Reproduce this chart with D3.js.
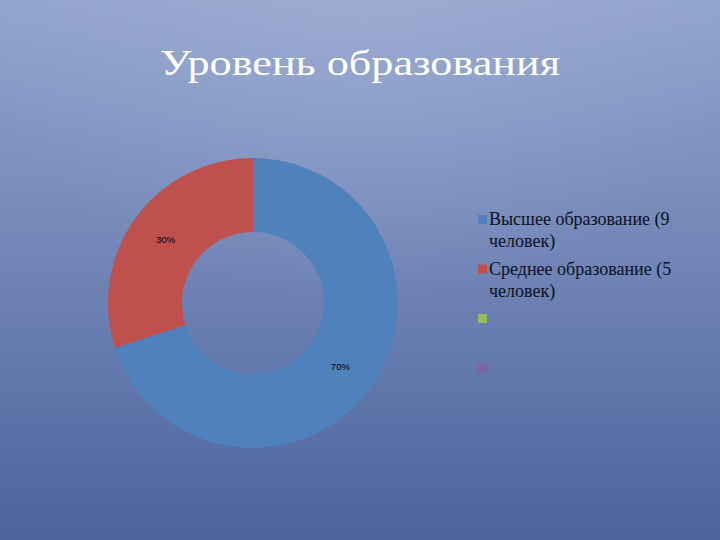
<!DOCTYPE html>
<html lang="ru">
<head>
<meta charset="UTF-8">
<link rel="icon" href="data:,">
<style>
html, body {
  margin: 0;
  padding: 0;
  overflow: hidden;
}
</style>
<script src="https://cdn.jsdelivr.net/npm/d3@7/dist/d3.min.js"></script>
</head>
<body>
<svg id="chart"></svg>
<script>
const width = 720;
const height = 540;
const serif = "'Liberation Serif', 'DejaVu Serif', serif";
const sans = "'Liberation Sans', Arial, sans-serif";

const titleText = "Уровень образования";
const categories = [
  ["Высшее образование (9", "человек)"],
  ["Среднее образование (5", "человек)"],
  [""],
  [""]
];
const values = [70, 30, 0, 0];
const colors = ["#4f81bd", "#c0504d", "#9bbb59", "#8064a2"];

const svg = d3.select("#chart")
  .attr("width", width)
  .attr("height", height);

// background gradient
const defs = svg.append("defs");
const grad = defs.append("linearGradient")
  .attr("id", "bg")
  .attr("x1", 0).attr("y1", 0)
  .attr("x2", 0).attr("y2", 1);
grad.append("stop").attr("offset", "0%").attr("stop-color", "#93a4cd");
grad.append("stop").attr("offset", "50%").attr("stop-color", "#7084b6");
grad.append("stop").attr("offset", "100%").attr("stop-color", "#4d639b");

const glow = defs.append("radialGradient")
  .attr("id", "glow")
  .attr("cx", 0.5).attr("cy", 0.0).attr("r", 0.55);
glow.append("stop").attr("offset", "0%").attr("stop-color", "#a9b8da").attr("stop-opacity", 0.4);
glow.append("stop").attr("offset", "100%").attr("stop-color", "#a9b8da").attr("stop-opacity", 0);

svg.append("rect").attr("width", width).attr("height", height).attr("fill", "url(#bg)");
svg.append("rect").attr("width", width).attr("height", height).attr("fill", "url(#glow)");

// title
svg.append("text")
  .attr("x", 360)
  .attr("y", 75)
  .attr("text-anchor", "middle")
  .attr("font-family", serif)
  .attr("font-size", 36)
  .attr("fill", "#ffffff")
  .attr("textLength", 400)
  .attr("lengthAdjust", "spacingAndGlyphs")
  .text(titleText);

// donut
const cx = 253, cy = 303;
const outerR = 145, innerR = 71;

const pie = d3.pie().sort(null).value(d => d);
const arc = d3.arc().innerRadius(innerR).outerRadius(outerR);

const slices = pie(values);
const g = svg.append("g").attr("transform", `translate(${cx},${cy})`);

g.selectAll("path")
  .data(slices.filter(d => d.value > 0))
  .enter()
  .append("path")
  .attr("d", arc)
  .attr("fill", d => colors[d.index]);

const total = d3.sum(values);
g.selectAll("text")
  .data(slices.filter(d => d.value > 0))
  .enter()
  .append("text")
  .attr("transform", d => `translate(${arc.centroid(d)})`)
  .attr("text-anchor", "middle")
  .attr("dy", "0.35em")
  .attr("font-family", sans)
  .attr("font-size", 9.5)
  .attr("fill", "#000000")
  .text(d => Math.round(d.value / total * 100) + "%");

// legend
const legendY = d3.scaleLinear().domain([0, 1]).range([219.5, 269]);
const legend = svg.append("g").attr("transform", "translate(478,0)");

const item = legend.selectAll("g")
  .data(categories)
  .enter()
  .append("g")
  .attr("transform", (d, i) => `translate(0,${legendY(i)})`);

item.append("rect")
  .attr("x", 0)
  .attr("y", -4.5)
  .attr("width", 9)
  .attr("height", 9)
  .attr("fill", (d, i) => colors[i]);

item.append("text")
  .attr("x", 11)
  .attr("y", 5.5)
  .attr("font-family", serif)
  .attr("font-size", 18)
  .attr("fill", "#0b1122")
  .selectAll("tspan")
  .data(d => d)
  .enter()
  .append("tspan")
  .attr("x", 11)
  .attr("dy", (d, i) => i === 0 ? 0 : 22)
  .text(d => d);
</script>
</body>
</html>
